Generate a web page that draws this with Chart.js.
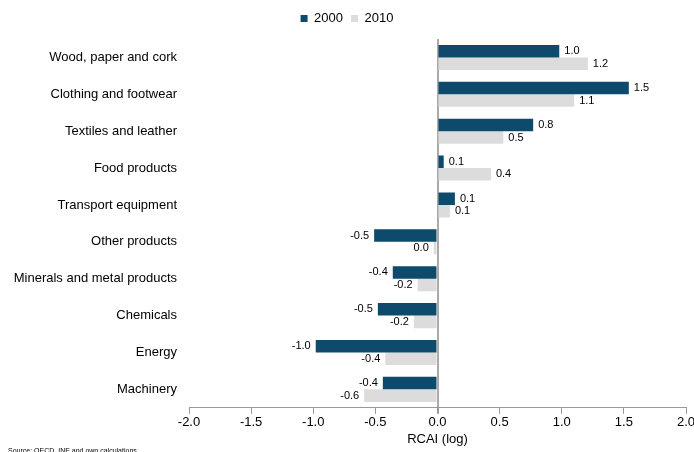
<!DOCTYPE html>
<html>
<head>
<meta charset="utf-8">
<script src="https://cdn.jsdelivr.net/npm/chart.js@4"></script>
<style>
  html, body { margin: 0; padding: 0; background: #fff; }
  #wrap { width: 694px; height: 452px; position: relative; }
</style>
</head>
<body>
<div id="wrap"><canvas id="myChart"></canvas></div>
<script>
const categorias = ['Wood, paper and cork', 'Clothing and footwear', 'Textiles and leather', 'Food products',
  'Transport equipment', 'Other products', 'Minerals and metal products', 'Chemicals', 'Energy', 'Machinery'];
const valores2000 = [0.98, 1.54, 0.77, 0.05, 0.14, -0.51, -0.36, -0.48, -0.98, -0.44];
const valores2010 = [1.21, 1.10, 0.53, 0.43, 0.10, -0.03, -0.16, -0.19, -0.42, -0.59];
const series = ['2000', '2010'];
const ticksX = [-2, -1.5, -1, -0.5, 0, 0.5, 1, 1.5, 2];

const colorOscuro = '#0d4a6b';
const colorClaro = '#dcdcdc';

Chart.defaults.font.family = '"Liberation Sans", Arial, sans-serif';
Chart.defaults.color = '#000';

function formato(v) {
  let s = v.toFixed(1);
  if (s === '-0.0') s = '0.0';
  return s;
}

// etiquetas de valor al final de cada barra
const etiquetasBarras = {
  id: 'etiquetasBarras',
  afterDatasetsDraw(chart) {
    const ctx = chart.ctx;
    ctx.save();
    ctx.font = '11px "Liberation Sans", Arial, sans-serif';
    ctx.fillStyle = '#000';
    ctx.textBaseline = 'middle';
    chart.data.datasets.forEach((ds, i) => {
      chart.getDatasetMeta(i).data.forEach((bar, j) => {
        const v = ds.data[j];
        if (v >= 0) {
          ctx.textAlign = 'left';
          ctx.fillText(formato(v), bar.x + 5, bar.y);
        } else {
          ctx.textAlign = 'right';
          ctx.fillText(formato(v), bar.x - 5, bar.y);
        }
      });
    });
    ctx.restore();
  }
};

// un poco mas de espacio bajo la leyenda
const espacioLeyenda = {
  id: 'espacioLeyenda',
  beforeUpdate(chart) {
    const leyenda = chart.legend;
    if (leyenda && !leyenda._conEspacio) {
      const fitOriginal = leyenda.fit;
      leyenda.fit = function () {
        fitOriginal.call(this);
        this.height += 4;
      };
      leyenda._conEspacio = true;
    }
  }
};

const fuente = {
  id: 'fuente',
  afterDraw(chart) {
    const ctx = chart.ctx;
    ctx.save();
    ctx.font = '7px "Liberation Sans", Arial, sans-serif';
    ctx.fillStyle = '#000';
    ctx.textAlign = 'left';
    ctx.textBaseline = 'top';
    ctx.fillText('Source: OECD, INE and own calculations', 8, 448);
    ctx.restore();
  }
};

const config = {
  type: 'bar',
  data: {
    labels: categorias,
    datasets: [
      { label: series[0], data: valores2000, backgroundColor: colorOscuro,
        categoryPercentage: 0.68, barPercentage: 1.0 },
      { label: series[1], data: valores2010, backgroundColor: colorClaro,
        categoryPercentage: 0.68, barPercentage: 1.0 }
    ]
  },
  options: {
    indexAxis: 'y',
    responsive: true,
    maintainAspectRatio: false,
    animation: false,
    layout: { padding: { top: 4, right: 0, left: 0, bottom: 0 } },
    plugins: {
      legend: {
        position: 'top',
        labels: { boxWidth: 7, boxHeight: 7, font: { size: 13 }, padding: 8 }
      },
      tooltip: { enabled: false }
    },
    scales: {
      x: {
        min: -2, max: 2,
        afterBuildTicks(scale) { scale.ticks = ticksX.map(v => ({ value: v })); },
        afterFit(scale) { scale.paddingRight = 8; },
        ticks: { font: { size: 13 }, padding: 1, callback: v => Number(v).toFixed(1) },
        grid: {
          drawOnChartArea: true,
          color: c => (c.tick && c.tick.value === 0) ? '#aaaaaa' : 'rgba(0,0,0,0)',
          lineWidth: c => (c.tick && c.tick.value === 0) ? 2 : 1,
          tickColor: '#999999',
          tickLength: 6
        },
        border: { display: true, color: '#999999' },
        title: { display: true, text: 'RCAI (log)', font: { size: 13 }, padding: { top: 0, bottom: 5 } }
      },
      y: {
        afterFit(scale) { scale.width = 189; },
        ticks: { font: { size: 13 }, padding: 12 },
        grid: { display: false, drawTicks: false },
        border: { display: false }
      }
    }
  },
  plugins: [espacioLeyenda, etiquetasBarras, fuente]
};

new Chart(document.getElementById('myChart'), config);
</script>
</body>
</html>
